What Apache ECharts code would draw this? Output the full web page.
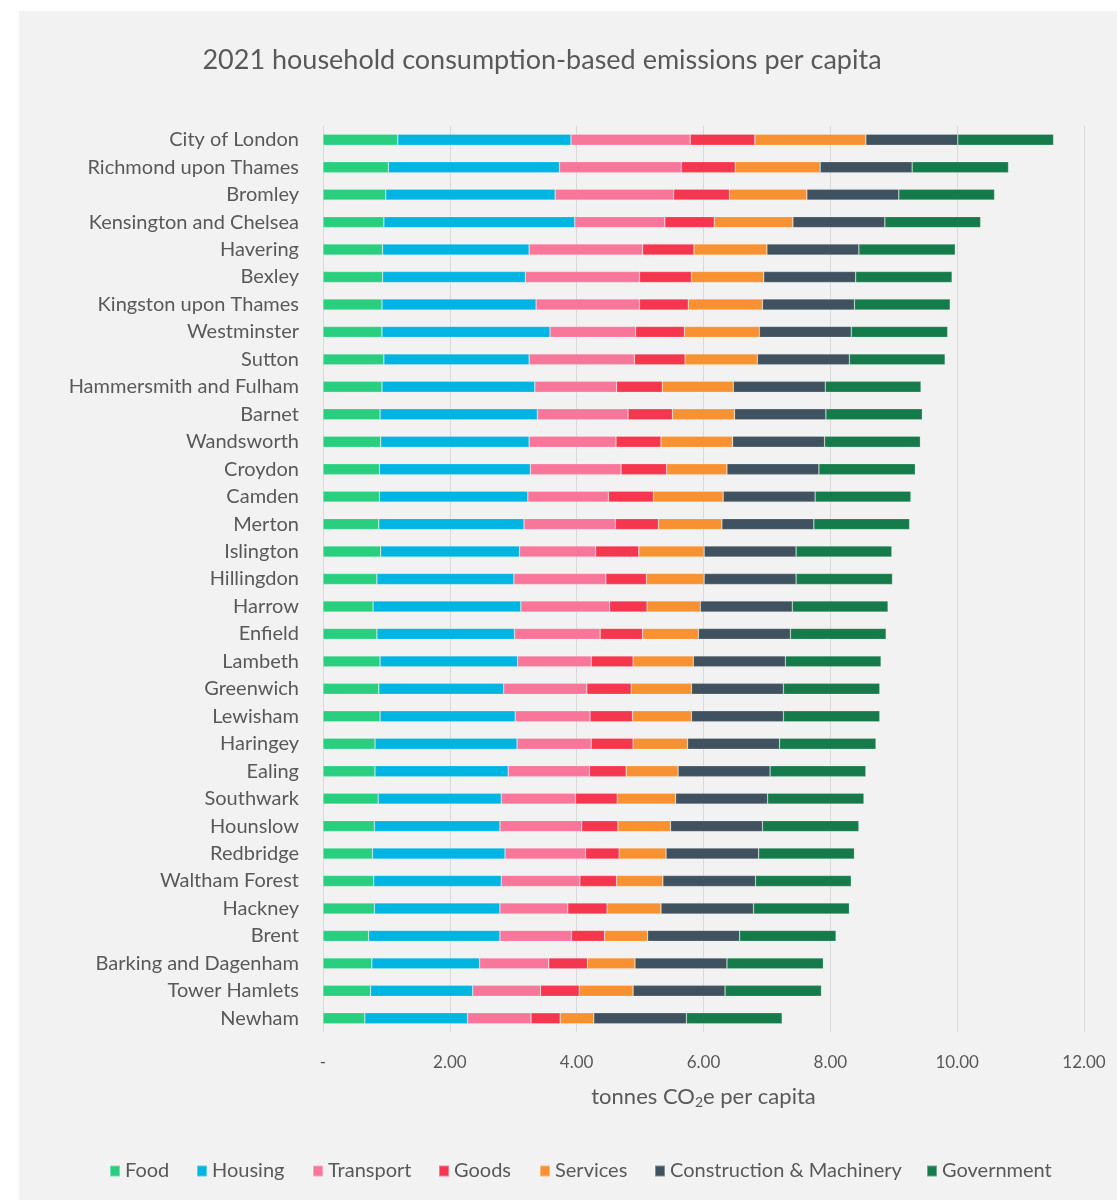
<!DOCTYPE html>
<html>
<head>
<meta charset="utf-8">
<title>2021 household consumption-based emissions per capita</title>
<script src="https://cdn.jsdelivr.net/npm/echarts@6/dist/echarts.min.js"></script>
<style>
  html, body { margin: 0; padding: 0; background: #ffffff; }
  #chart { width: 1117px; height: 1202px; }
</style>
</head>
<body>
<div id="chart"></div>
<script>
// London boroughs, top to bottom
const categories = [
  'City of London', 'Richmond upon Thames', 'Bromley', 'Kensington and Chelsea',
  'Havering', 'Bexley', 'Kingston upon Thames', 'Westminster', 'Sutton',
  'Hammersmith and Fulham', 'Barnet', 'Wandsworth', 'Croydon', 'Camden', 'Merton',
  'Islington', 'Hillingdon', 'Harrow', 'Enfield', 'Lambeth', 'Greenwich', 'Lewisham',
  'Haringey', 'Ealing', 'Southwark', 'Hounslow', 'Redbridge', 'Waltham Forest',
  'Hackney', 'Brent', 'Barking and Dagenham', 'Tower Hamlets', 'Newham'
];

// tonnes CO2e per capita, by consumption category
const food = [1.18, 1.03, 0.99, 0.96, 0.94, 0.94, 0.93, 0.93, 0.96, 0.93, 0.90, 0.91, 0.89, 0.89, 0.88,
  0.91, 0.85, 0.79, 0.85, 0.90, 0.88, 0.90, 0.82, 0.82, 0.87, 0.81, 0.78, 0.80, 0.81, 0.72, 0.77, 0.75, 0.66];
const housing = [2.73, 2.70, 2.67, 3.01, 2.31, 2.25, 2.43, 2.65, 2.29, 2.41, 2.48, 2.34, 2.38, 2.34, 2.29,
  2.19, 2.16, 2.33, 2.17, 2.17, 1.97, 2.13, 2.24, 2.10, 1.94, 1.98, 2.09, 2.01, 1.98, 2.07, 1.70, 1.61, 1.62];
const transport = [1.88, 1.92, 1.87, 1.42, 1.79, 1.80, 1.63, 1.35, 1.66, 1.29, 1.43, 1.37, 1.43, 1.27, 1.44,
  1.20, 1.45, 1.40, 1.35, 1.16, 1.31, 1.18, 1.17, 1.28, 1.17, 1.29, 1.27, 1.24, 1.07, 1.13, 1.09, 1.07, 1.00];
const goods = [1.02, 0.85, 0.88, 0.78, 0.81, 0.82, 0.77, 0.77, 0.80, 0.72, 0.70, 0.71, 0.72, 0.71, 0.68,
  0.68, 0.64, 0.59, 0.67, 0.66, 0.70, 0.67, 0.66, 0.58, 0.66, 0.57, 0.53, 0.58, 0.62, 0.52, 0.61, 0.61, 0.46];
const services = [1.75, 1.34, 1.22, 1.24, 1.15, 1.14, 1.17, 1.18, 1.14, 1.12, 0.98, 1.13, 0.95, 1.10, 1.00,
  1.03, 0.91, 0.84, 0.88, 0.95, 0.95, 0.93, 0.86, 0.82, 0.92, 0.83, 0.74, 0.73, 0.85, 0.68, 0.75, 0.85, 0.53];
const construction = [1.45, 1.45, 1.45, 1.45, 1.45, 1.45, 1.45, 1.45, 1.45, 1.45, 1.44, 1.45, 1.45, 1.45, 1.45,
  1.45, 1.45, 1.45, 1.45, 1.45, 1.45, 1.45, 1.45, 1.45, 1.45, 1.45, 1.46, 1.46, 1.46, 1.45, 1.45, 1.45, 1.46];
const government = [1.51, 1.52, 1.51, 1.51, 1.52, 1.52, 1.51, 1.52, 1.51, 1.51, 1.52, 1.51, 1.52, 1.51, 1.51,
  1.51, 1.52, 1.51, 1.51, 1.51, 1.52, 1.52, 1.52, 1.51, 1.52, 1.52, 1.51, 1.51, 1.51, 1.52, 1.52, 1.52, 1.51];

const xTicks = [0, 2, 4, 6, 8, 10, 12];

const seriesDefs = [
  { name: 'Food', data: food, color: '#29CF7F' },
  { name: 'Housing', data: housing, color: '#00B5E2' },
  { name: 'Transport', data: transport, color: '#F7769A' },
  { name: 'Goods', data: goods, color: '#F5364F' },
  { name: 'Services', data: services, color: '#F79131' },
  { name: 'Construction & Machinery', data: construction, color: '#40525F' },
  { name: 'Government', data: government, color: '#167B4A' }
];

// left edge of each legend entry along the bottom row
const legendLefts = [109, 196, 312, 438, 539, 654, 926];

const FONT = 'Lato';
const TEXT = '#595959';

const chart = echarts.init(document.getElementById('chart'), null, { renderer: 'canvas' });

chart.setOption({
  animation: false,
  backgroundColor: '#ffffff',
  graphic: [{
    type: 'rect',
    z: -10,
    shape: { x: 19, y: 11, width: 1098, height: 1189 },
    style: { fill: '#F2F2F2' }
  }],
  textStyle: { fontFamily: FONT },
  title: {
    text: '2021 household consumption-based emissions per capita',
    left: 537, top: 42, textAlign: 'center',
    textStyle: { fontFamily: FONT, fontSize: 27, fontWeight: 'normal', color: TEXT }
  },
  legend: seriesDefs.map((s, i) => ({
    left: legendLefts[i], top: 1161, padding: 0,
    icon: 'rect', itemWidth: 10, itemHeight: 11,
    textStyle: { fontFamily: FONT, fontSize: 20, color: TEXT },
    data: [s.name]
  })),
  grid: { left: 323, width: 761, top: 126, height: 906, containLabel: false },
  xAxis: {
    type: 'value', min: xTicks[0], max: xTicks[xTicks.length - 1], interval: 2,
    axisLine: { show: false }, axisTick: { show: false },
    splitLine: { show: true, lineStyle: { color: '#D9D9D9', width: 1 } },
    axisLabel: {
      margin: 22, fontFamily: FONT, fontSize: 17, color: TEXT,
      formatter: v => (v === 0 ? '-' : v.toFixed(2))
    },
    name: '{t|tonnes CO}{s|2}{t|e per capita}',
    nameLocation: 'middle', nameGap: 53,
    nameTextStyle: {
      rich: {
        t: { fontFamily: FONT, fontSize: 22, color: TEXT },
        s: { fontFamily: FONT, fontSize: 14, color: TEXT, padding: [10, 0, 0, 0] }
      }
    }
  },
  yAxis: {
    type: 'category', data: categories, inverse: true,
    axisLine: { show: false }, axisTick: { show: false },
    axisLabel: { margin: 24, fontFamily: FONT, fontSize: 20, color: TEXT }
  },
  series: seriesDefs.map(s => ({
    name: s.name, type: 'bar', stack: 'total', barWidth: 11,
    data: s.data,
    itemStyle: { color: s.color, borderColor: 'rgba(255,255,255,0.35)', borderWidth: 0.6 }
  }))
});
</script>
</body>
</html>
